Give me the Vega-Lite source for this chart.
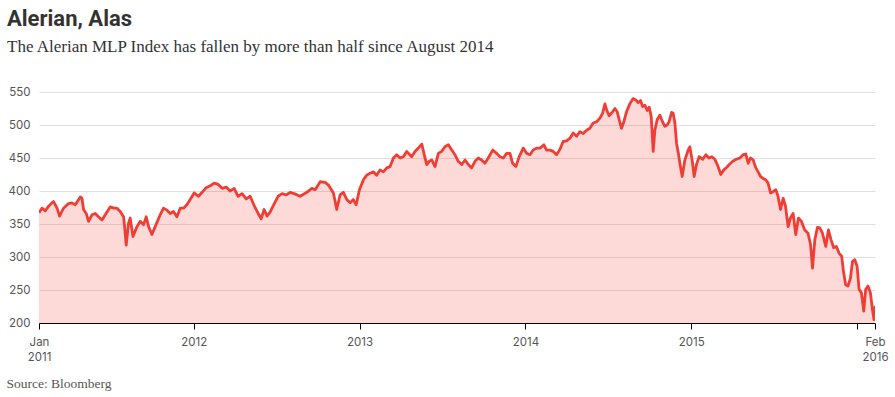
{
  "$schema": "https://vega.github.io/schema/vega-lite/v6.json",
  "width": 836,
  "height": 231,
  "autosize": {"type": "none"},
  "padding": {"left": 39, "top": 92, "right": 20, "bottom": 74},
  "background": "white",
  "title": {
    "text": "Alerian, Alas",
    "subtitle": "The Alerian MLP Index has fallen by more than half since August 2014",
    "anchor": "start",
    "frame": "group",
    "dx": -32,
    "offset": 30,
    "font": "Roboto",
    "fontSize": 22,
    "fontWeight": "bold",
    "color": "#333333",
    "subtitleFont": "Liberation Serif",
    "subtitleFontSize": 17,
    "subtitleColor": "#333333",
    "subtitlePadding": 8
  },
  "data": {
    "values": [
      {"t": 2011.066, "v": 367}, {"t": 2011.084, "v": 374}, {"t": 2011.104, "v": 370}, {"t": 2011.124, "v": 377},
      {"t": 2011.144, "v": 382}, {"t": 2011.154, "v": 384}, {"t": 2011.175, "v": 374}, {"t": 2011.190, "v": 362},
      {"t": 2011.214, "v": 374}, {"t": 2011.244, "v": 381}, {"t": 2011.265, "v": 382}, {"t": 2011.285, "v": 379},
      {"t": 2011.315, "v": 391}, {"t": 2011.325, "v": 389}, {"t": 2011.335, "v": 372}, {"t": 2011.351, "v": 366},
      {"t": 2011.365, "v": 354}, {"t": 2011.386, "v": 364}, {"t": 2011.405, "v": 366}, {"t": 2011.425, "v": 361},
      {"t": 2011.446, "v": 356}, {"t": 2011.466, "v": 364}, {"t": 2011.496, "v": 376}, {"t": 2011.516, "v": 374},
      {"t": 2011.536, "v": 374}, {"t": 2011.556, "v": 369}, {"t": 2011.576, "v": 361}, {"t": 2011.583, "v": 345},
      {"t": 2011.592, "v": 318}, {"t": 2011.606, "v": 351}, {"t": 2011.616, "v": 359}, {"t": 2011.633, "v": 331},
      {"t": 2011.657, "v": 346}, {"t": 2011.677, "v": 354}, {"t": 2011.697, "v": 349}, {"t": 2011.713, "v": 361},
      {"t": 2011.727, "v": 346}, {"t": 2011.747, "v": 334}, {"t": 2011.767, "v": 346}, {"t": 2011.797, "v": 364},
      {"t": 2011.817, "v": 374}, {"t": 2011.838, "v": 371}, {"t": 2011.858, "v": 366}, {"t": 2011.877, "v": 369},
      {"t": 2011.898, "v": 361}, {"t": 2011.918, "v": 374}, {"t": 2011.938, "v": 374}, {"t": 2011.958, "v": 379},
      {"t": 2011.978, "v": 387}, {"t": 2012.002, "v": 397}, {"t": 2012.028, "v": 392}, {"t": 2012.050, "v": 398},
      {"t": 2012.074, "v": 405}, {"t": 2012.099, "v": 408}, {"t": 2012.123, "v": 412}, {"t": 2012.147, "v": 410},
      {"t": 2012.171, "v": 404}, {"t": 2012.195, "v": 406}, {"t": 2012.219, "v": 400}, {"t": 2012.243, "v": 404},
      {"t": 2012.267, "v": 392}, {"t": 2012.291, "v": 396}, {"t": 2012.316, "v": 388}, {"t": 2012.340, "v": 392},
      {"t": 2012.364, "v": 378}, {"t": 2012.388, "v": 366}, {"t": 2012.406, "v": 358}, {"t": 2012.424, "v": 372},
      {"t": 2012.442, "v": 362}, {"t": 2012.460, "v": 368}, {"t": 2012.484, "v": 380}, {"t": 2012.508, "v": 392},
      {"t": 2012.533, "v": 396}, {"t": 2012.557, "v": 394}, {"t": 2012.581, "v": 398}, {"t": 2012.605, "v": 396},
      {"t": 2012.641, "v": 392}, {"t": 2012.682, "v": 398}, {"t": 2012.712, "v": 404}, {"t": 2012.732, "v": 402},
      {"t": 2012.762, "v": 414}, {"t": 2012.792, "v": 413}, {"t": 2012.812, "v": 409}, {"t": 2012.842, "v": 397},
      {"t": 2012.862, "v": 372}, {"t": 2012.882, "v": 394}, {"t": 2012.902, "v": 398}, {"t": 2012.923, "v": 387},
      {"t": 2012.943, "v": 382}, {"t": 2012.962, "v": 387}, {"t": 2012.979, "v": 379}, {"t": 2012.999, "v": 402},
      {"t": 2013.023, "v": 417}, {"t": 2013.043, "v": 424}, {"t": 2013.063, "v": 427}, {"t": 2013.083, "v": 429},
      {"t": 2013.103, "v": 424}, {"t": 2013.123, "v": 432}, {"t": 2013.143, "v": 429}, {"t": 2013.164, "v": 435},
      {"t": 2013.184, "v": 437}, {"t": 2013.204, "v": 450}, {"t": 2013.224, "v": 455}, {"t": 2013.244, "v": 450},
      {"t": 2013.264, "v": 452}, {"t": 2013.284, "v": 460}, {"t": 2013.314, "v": 452}, {"t": 2013.334, "v": 460},
      {"t": 2013.354, "v": 465}, {"t": 2013.375, "v": 471}, {"t": 2013.388, "v": 457}, {"t": 2013.405, "v": 440},
      {"t": 2013.420, "v": 445}, {"t": 2013.435, "v": 447}, {"t": 2013.455, "v": 437}, {"t": 2013.475, "v": 457},
      {"t": 2013.495, "v": 460}, {"t": 2013.515, "v": 467}, {"t": 2013.535, "v": 470}, {"t": 2013.556, "v": 462},
      {"t": 2013.575, "v": 455}, {"t": 2013.595, "v": 445}, {"t": 2013.616, "v": 440}, {"t": 2013.636, "v": 447},
      {"t": 2013.656, "v": 440}, {"t": 2013.676, "v": 435}, {"t": 2013.696, "v": 445}, {"t": 2013.716, "v": 450},
      {"t": 2013.736, "v": 447}, {"t": 2013.756, "v": 442}, {"t": 2013.776, "v": 450}, {"t": 2013.803, "v": 462},
      {"t": 2013.827, "v": 457}, {"t": 2013.847, "v": 452}, {"t": 2013.867, "v": 450}, {"t": 2013.887, "v": 457},
      {"t": 2013.907, "v": 457}, {"t": 2013.923, "v": 442}, {"t": 2013.943, "v": 437}, {"t": 2013.963, "v": 452},
      {"t": 2013.987, "v": 465}, {"t": 2014.008, "v": 457}, {"t": 2014.028, "v": 455}, {"t": 2014.047, "v": 462},
      {"t": 2014.068, "v": 465}, {"t": 2014.088, "v": 465}, {"t": 2014.112, "v": 470}, {"t": 2014.128, "v": 462},
      {"t": 2014.148, "v": 462}, {"t": 2014.168, "v": 460}, {"t": 2014.188, "v": 455}, {"t": 2014.208, "v": 463},
      {"t": 2014.228, "v": 475}, {"t": 2014.249, "v": 476}, {"t": 2014.269, "v": 480}, {"t": 2014.288, "v": 488},
      {"t": 2014.309, "v": 483}, {"t": 2014.329, "v": 490}, {"t": 2014.349, "v": 487}, {"t": 2014.369, "v": 492},
      {"t": 2014.389, "v": 495}, {"t": 2014.409, "v": 503}, {"t": 2014.430, "v": 505}, {"t": 2014.449, "v": 510},
      {"t": 2014.466, "v": 518}, {"t": 2014.480, "v": 532}, {"t": 2014.490, "v": 523}, {"t": 2014.505, "v": 514},
      {"t": 2014.526, "v": 520}, {"t": 2014.540, "v": 525}, {"t": 2014.554, "v": 520}, {"t": 2014.566, "v": 508},
      {"t": 2014.580, "v": 495}, {"t": 2014.594, "v": 505}, {"t": 2014.610, "v": 520}, {"t": 2014.630, "v": 532},
      {"t": 2014.650, "v": 540}, {"t": 2014.666, "v": 538}, {"t": 2014.680, "v": 534}, {"t": 2014.695, "v": 537},
      {"t": 2014.707, "v": 528}, {"t": 2014.721, "v": 530}, {"t": 2014.735, "v": 522}, {"t": 2014.747, "v": 527},
      {"t": 2014.759, "v": 513}, {"t": 2014.771, "v": 460}, {"t": 2014.781, "v": 492}, {"t": 2014.795, "v": 508},
      {"t": 2014.811, "v": 515}, {"t": 2014.827, "v": 505}, {"t": 2014.841, "v": 498}, {"t": 2014.855, "v": 500},
      {"t": 2014.867, "v": 505}, {"t": 2014.882, "v": 519}, {"t": 2014.891, "v": 518}, {"t": 2014.902, "v": 503},
      {"t": 2014.912, "v": 472}, {"t": 2014.921, "v": 460}, {"t": 2014.932, "v": 442}, {"t": 2014.946, "v": 422},
      {"t": 2014.962, "v": 447}, {"t": 2014.982, "v": 462}, {"t": 2014.992, "v": 467}, {"t": 2015.006, "v": 447},
      {"t": 2015.018, "v": 422}, {"t": 2015.032, "v": 440}, {"t": 2015.048, "v": 452}, {"t": 2015.070, "v": 448},
      {"t": 2015.089, "v": 455}, {"t": 2015.107, "v": 450}, {"t": 2015.125, "v": 452}, {"t": 2015.143, "v": 448},
      {"t": 2015.161, "v": 438}, {"t": 2015.179, "v": 425}, {"t": 2015.197, "v": 432}, {"t": 2015.215, "v": 436},
      {"t": 2015.233, "v": 441}, {"t": 2015.251, "v": 445}, {"t": 2015.270, "v": 448}, {"t": 2015.294, "v": 450},
      {"t": 2015.314, "v": 455}, {"t": 2015.330, "v": 456}, {"t": 2015.344, "v": 442}, {"t": 2015.358, "v": 450},
      {"t": 2015.374, "v": 447}, {"t": 2015.390, "v": 435}, {"t": 2015.404, "v": 429}, {"t": 2015.418, "v": 422},
      {"t": 2015.434, "v": 419}, {"t": 2015.450, "v": 417}, {"t": 2015.464, "v": 412}, {"t": 2015.479, "v": 397},
      {"t": 2015.494, "v": 399}, {"t": 2015.511, "v": 402}, {"t": 2015.524, "v": 392}, {"t": 2015.539, "v": 372},
      {"t": 2015.555, "v": 389}, {"t": 2015.569, "v": 377}, {"t": 2015.585, "v": 346}, {"t": 2015.599, "v": 359},
      {"t": 2015.615, "v": 366}, {"t": 2015.631, "v": 334}, {"t": 2015.647, "v": 359}, {"t": 2015.665, "v": 354},
      {"t": 2015.685, "v": 341}, {"t": 2015.705, "v": 336}, {"t": 2015.720, "v": 319}, {"t": 2015.732, "v": 283},
      {"t": 2015.746, "v": 326}, {"t": 2015.762, "v": 345}, {"t": 2015.776, "v": 344}, {"t": 2015.792, "v": 336},
      {"t": 2015.812, "v": 316}, {"t": 2015.828, "v": 341}, {"t": 2015.844, "v": 326}, {"t": 2015.860, "v": 314},
      {"t": 2015.876, "v": 316}, {"t": 2015.892, "v": 306}, {"t": 2015.908, "v": 301}, {"t": 2015.920, "v": 276},
      {"t": 2015.932, "v": 258}, {"t": 2015.946, "v": 256}, {"t": 2015.961, "v": 268}, {"t": 2015.973, "v": 293},
      {"t": 2015.987, "v": 296}, {"t": 2016.001, "v": 286}, {"t": 2016.013, "v": 251}, {"t": 2016.027, "v": 246},
      {"t": 2016.041, "v": 218}, {"t": 2016.053, "v": 251}, {"t": 2016.067, "v": 256}, {"t": 2016.081, "v": 246},
      {"t": 2016.094, "v": 220}, {"t": 2016.103, "v": 205}, {"t": 2016.109, "v": 226}
    ]
  },
  "encoding": {
    "x": {
      "field": "t",
      "type": "quantitative",
      "scale": {"domain": [2011.066, 2016.109], "nice": false, "zero": false},
      "axis": {
        "values": [2011.066, 2012, 2013, 2014, 2015, 2016, 2016.109],
        "labelExpr": "datum.value < 2011.5 ? ['Jan', '2011'] : datum.value > 2016.05 ? ['Feb', '2016'] : datum.value == 2016 ? '' : format(datum.value, 'd')",
        "grid": false,
        "domainColor": "#000000",
        "domainWidth": 1,
        "tickColor": "#000000",
        "tickSize": 6,
        "labelFont": "Inter",
        "labelFontSize": 11.5,
        "labelColor": "#555555",
        "labelPadding": 7,
        "labelLineHeight": 15,
        "labelFlush": false,
        "labelOverlap": false,
        "labelBound": false,
        "title": "Source: Bloomberg",
        "titleFont": "Liberation Serif",
        "titleFontSize": 13.5,
        "titleFontWeight": "normal",
        "titleColor": "#555555",
        "titleAnchor": "start",
        "titleAlign": "left",
        "titleBaseline": "alphabetic",
        "titleX": -33,
        "titleY": 64
      }
    },
    "y": {
      "field": "v",
      "type": "quantitative",
      "scale": {"domain": [200, 550], "nice": false, "zero": false},
      "axis": {
        "values": [200, 250, 300, 350, 400, 450, 500, 550],
        "domain": false,
        "ticks": false,
        "grid": true,
        "gridColor": "#e0e0e0",
        "labelPadding": 9,
        "labelFont": "Inter",
        "labelFontSize": 11.5,
        "labelColor": "#555555",
        "title": null
      }
    }
  },
  "layer": [
    {
      "mark": {"type": "area", "color": "#f7413b", "fillOpacity": 0.2, "clip": true},
      "encoding": {"y2": {"datum": 200}}
    },
    {
      "mark": {"type": "line", "color": "#ef3e36", "strokeWidth": 2.8, "strokeJoin": "round", "clip": true}
    }
  ],
  "config": {"view": {"stroke": null}}
}
